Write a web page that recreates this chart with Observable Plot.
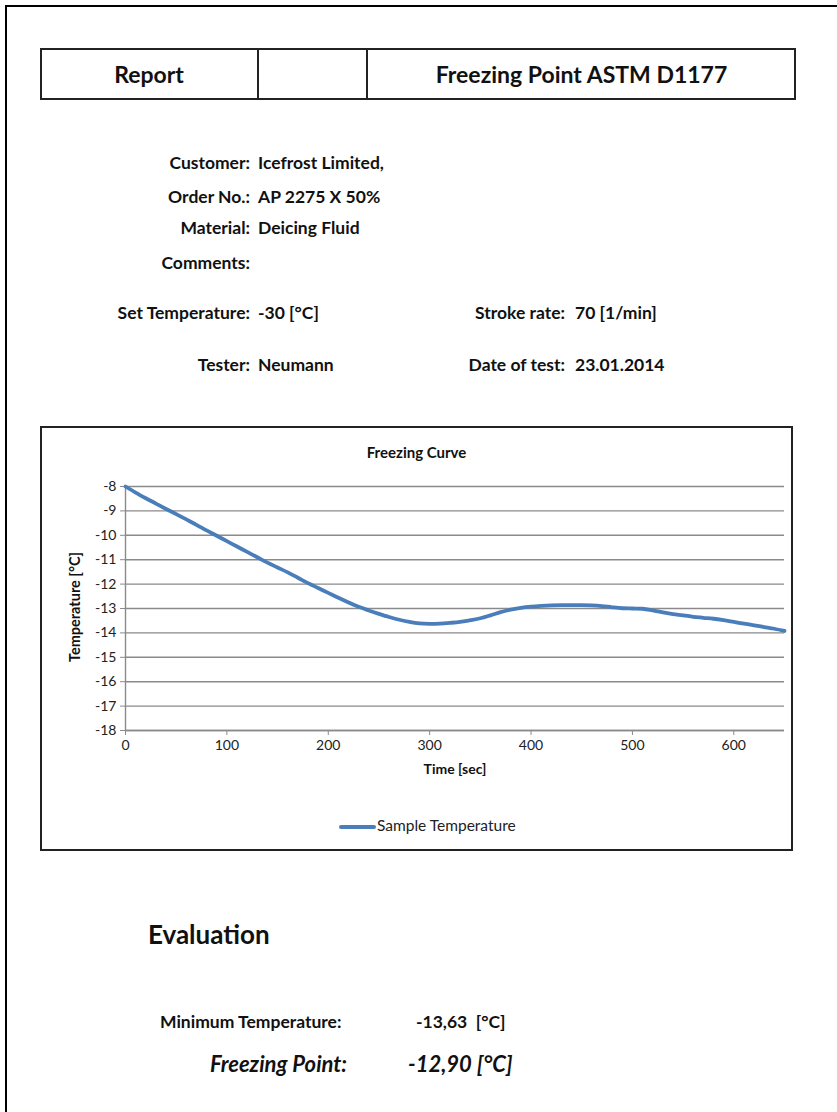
<!DOCTYPE html>
<html><head><meta charset="utf-8">
<script src="https://cdn.jsdelivr.net/npm/d3@7"></script>
<script src="https://cdn.jsdelivr.net/npm/@observablehq/plot@0.6"></script>
<style>
html,body{margin:0;padding:0;background:#fff}
body{width:837px;height:1112px;position:relative;overflow:hidden;font-family:Lato,"Open Sans",sans-serif;color:#111}
.a{position:absolute;white-space:nowrap}
.lbl{position:absolute;white-space:nowrap;text-align:right;font-weight:700;font-size:17.5px;line-height:22px}
.val{position:absolute;white-space:nowrap;font-weight:700;font-size:17.5px;line-height:22px}
</style></head><body>
<div class="a" style="left:5px;top:5px;width:900px;height:1200px;border-left:2px solid #000;border-top:2px solid #000"></div>

<div class="a" style="left:40px;top:48px;width:756px;height:52px;box-sizing:border-box;border:2px solid #222"></div>
<div class="a" style="left:257px;top:48px;width:2px;height:52px;background:#222"></div>
<div class="a" style="left:366px;top:48px;width:2px;height:52px;background:#222"></div>
<div class="a" style="left:40px;top:60px;width:218px;text-align:center;font-weight:700;font-size:23px;line-height:28px">Report</div>
<div class="a" style="left:367px;top:60px;width:429px;text-align:center;font-weight:700;font-size:23px;line-height:28px">Freezing Point ASTM D1177</div>

<div id="info"></div>

<div id="chart" class="a" style="left:40px;top:426px"></div>
<div class="a" style="left:40px;top:426px;width:753px;height:425px;box-sizing:border-box;border:2px solid #222;pointer-events:none"></div>
<div class="a" style="left:40px;top:443px;width:753px;text-align:center;font-weight:700;font-size:15px;line-height:19px">Freezing Curve</div>
<div class="a" style="left:270px;top:760px;width:370px;text-align:center;font-weight:700;font-size:14px;line-height:18px">Time [sec]</div>
<div class="a" style="left:75px;top:607px;transform:translate(-50%,-50%) rotate(-90deg);font-weight:700;font-size:14.5px;line-height:18px">Temperature [°C]</div>
<div class="a" style="left:339px;top:815px;font-size:15.5px;line-height:20px;color:#222"><span style="display:inline-block;width:37px;height:4px;background:#4a7ebb;vertical-align:middle;margin-right:1px;border-radius:2px"></span>Sample Temperature</div>

<div class="a" style="left:148px;top:918px;font-weight:700;font-size:26px;line-height:32px">Evaluation</div>
<div class="a" style="left:160px;top:1011px;font-weight:700;font-size:17.5px;line-height:22px">Minimum Temperature:</div>
<div class="a" style="left:416px;top:1011px;font-weight:700;font-size:17.5px;line-height:22px">-13,63&nbsp; [°C]</div>
<div class="a" style="left:210px;top:1050px;font-weight:700;font-style:italic;font-size:22px;line-height:27px">Freezing Point:</div>
<div class="a" style="left:408px;top:1050px;font-weight:700;font-style:italic;font-size:22px;line-height:27px">-12,90 [°C]</div>

<script>
// ---- data ----
const infoLabelsLeft = ["Customer:", "Order No.:", "Material:", "Comments:", "Set Temperature:", "Tester:"];
const infoValuesLeft = ["Icefrost Limited,", "AP 2275 X 50%", "Deicing Fluid", "", "-30 [°C]", "Neumann"];
const infoLabelsRight = ["Stroke rate:", "Date of test:"];
const infoValuesRight = ["70 [1/min]", "23.01.2014"];

const timeSec = [0,10,20,30,40,50,60,70,80,90,100,110,120,130,140,150,160,170,180,190,200,210,220,230,240,250,260,270,280,290,300,310,320,330,340,350,360,370,380,390,400,410,420,430,440,450,460,470,480,490,500,510,520,530,540,550,560,570,580,590,600,610,620,630,640,650];
const sampleTemp = [-8.00,-8.25,-8.48,-8.70,-8.92,-9.13,-9.35,-9.57,-9.80,-10.02,-10.24,-10.46,-10.68,-10.90,-11.12,-11.32,-11.52,-11.74,-11.96,-12.16,-12.36,-12.56,-12.75,-12.93,-13.08,-13.22,-13.35,-13.46,-13.55,-13.61,-13.63,-13.62,-13.59,-13.55,-13.48,-13.40,-13.28,-13.15,-13.05,-12.97,-12.92,-12.89,-12.87,-12.86,-12.86,-12.86,-12.87,-12.90,-12.95,-12.99,-13.00,-13.01,-13.08,-13.16,-13.23,-13.28,-13.34,-13.38,-13.42,-13.48,-13.55,-13.62,-13.69,-13.76,-13.83,-13.92];
const xTicks = [0,100,200,300,400,500,600];
const yTicks = [-8,-9,-10,-11,-12,-13,-14,-15,-16,-17,-18];

// ---- info block ----
const info = document.getElementById("info");
const leftRowsY = [152, 186, 217, 252, 302, 354];
infoLabelsLeft.forEach((l, i) => {
  const d = document.createElement("div"); d.className = "lbl";
  d.style.left = "0px"; d.style.width = "250px"; d.style.top = leftRowsY[i] + "px"; d.textContent = l;
  info.appendChild(d);
  const v = document.createElement("div"); v.className = "val";
  v.style.left = "258px"; v.style.top = leftRowsY[i] + "px"; v.textContent = infoValuesLeft[i];
  info.appendChild(v);
});
const rightRowsY = [302, 354];
infoLabelsRight.forEach((l, i) => {
  const d = document.createElement("div"); d.className = "lbl";
  d.style.left = "300px"; d.style.width = "265px"; d.style.top = rightRowsY[i] + "px"; d.textContent = l;
  info.appendChild(d);
  const v = document.createElement("div"); v.className = "val";
  v.style.left = "575px"; v.style.top = rightRowsY[i] + "px"; v.textContent = infoValuesRight[i];
  info.appendChild(v);
});

// ---- chart ----
const data = timeSec.map((t, i) => ({t, v: sampleTemp[i]}));
const fmt = d => String(d);
const chart = Plot.plot({
  width: 753, height: 425,
  marginLeft: 85, marginRight: 9, marginTop: 60, marginBottom: 121,
  style: {fontFamily: "Lato, 'Open Sans', sans-serif", fontSize: "14px", color: "#222", background: "transparent"},
  x: {domain: [0, 650]},
  y: {domain: [-18, -8]},
  marks: [
    Plot.gridY(yTicks, {stroke: "#8a8a8a", strokeOpacity: 1, strokeWidth: 1.4}),
    Plot.ruleX([0], {stroke: "#8a8a8a", strokeWidth: 1.4}),
    Plot.ruleY([-18], {stroke: "#8a8a8a", strokeWidth: 1.4}),
    Plot.axisY({ticks: yTicks, tickFormat: fmt, tickSize: 5, tickPadding: 4, label: null, stroke: "#8a8a8a", fill: "#222", fontSize: 14}),
    Plot.axisX({ticks: xTicks, tickFormat: fmt, tickSize: 5, tickPadding: 5, label: null, stroke: "#8a8a8a", fill: "#222", fontSize: 14}),
    Plot.line(data, {x: "t", y: "v", stroke: "#4a7ebb", strokeWidth: 3.8, curve: "catmull-rom"})
  ]
});
document.getElementById("chart").appendChild(chart);
</script>
</body></html>
